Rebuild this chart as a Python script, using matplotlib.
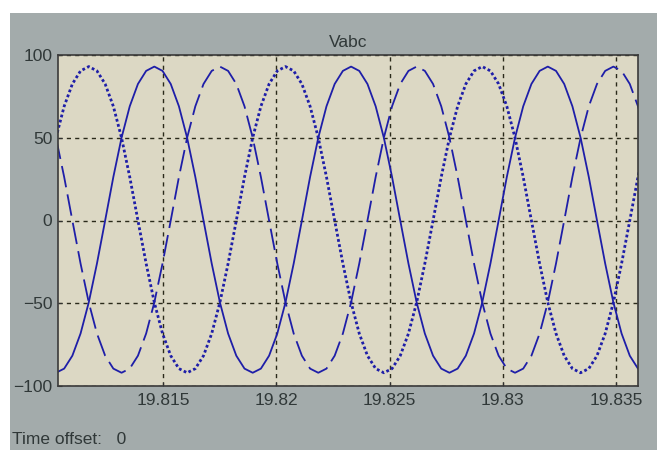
import numpy as np
import matplotlib.pyplot as plt
from matplotlib.patches import Rectangle

# sample grid of the scope trace (seconds)
t_start = 19.81026
t_step = 0.0003621

# phase voltages, one value per sample
va = [50.0, 69.0, 82.5, 90.4, 93.0, 90.4, 82.5, 69.0, 50.0, 26.3, 0.0, -26.0,
      -49.5, -68.3, -81.7, -89.5, -92.0, -89.5, -81.7, -68.3, -49.5, -26.0, 0.0, 26.3,
      50.0, 69.0, 82.5, 90.4, 93.0, 90.4, 82.5, 69.0, 50.0, 26.3, 0.0, -26.0,
      -49.5, -68.3, -81.7, -89.5, -92.0, -89.5, -81.7, -68.3, -49.5, -26.0, 0.0, 26.3,
      50.0, 69.0, 82.5, 90.4, 93.0, 90.4, 82.5, 69.0, 50.0, 26.3, 0.0, -26.0,
      -49.5, -68.3, -81.7, -89.5, -92.0, -89.5, -81.7, -68.3, -49.5, -26.0, 0.0, 26.3,
      50.0]
vb = [-92.0, -89.5, -81.7, -68.3, -49.5, -26.0, 0.0, 26.3, 50.0, 69.0, 82.5, 90.4,
      93.0, 90.4, 82.5, 69.0, 50.0, 26.3, 0.0, -26.0, -49.5, -68.3, -81.7, -89.5,
      -92.0, -89.5, -81.7, -68.3, -49.5, -26.0, 0.0, 26.3, 50.0, 69.0, 82.5, 90.4,
      93.0, 90.4, 82.5, 69.0, 50.0, 26.3, 0.0, -26.0, -49.5, -68.3, -81.7, -89.5,
      -92.0, -89.5, -81.7, -68.3, -49.5, -26.0, 0.0, 26.3, 50.0, 69.0, 82.5, 90.4,
      93.0, 90.4, 82.5, 69.0, 50.0, 26.3, 0.0, -26.0, -49.5, -68.3, -81.7, -89.5,
      -92.0]
vc = [50.0, 26.3, 0.0, -26.0, -49.5, -68.3, -81.7, -89.5, -92.0, -89.5, -81.7, -68.3,
      -49.5, -26.0, 0.0, 26.3, 50.0, 69.0, 82.5, 90.4, 93.0, 90.4, 82.5, 69.0,
      50.0, 26.3, 0.0, -26.0, -49.5, -68.3, -81.7, -89.5, -92.0, -89.5, -81.7, -68.3,
      -49.5, -26.0, 0.0, 26.3, 50.0, 69.0, 82.5, 90.4, 93.0, 90.4, 82.5, 69.0,
      50.0, 26.3, 0.0, -26.0, -49.5, -68.3, -81.7, -89.5, -92.0, -89.5, -81.7, -68.3,
      -49.5, -26.0, 0.0, 26.3, 50.0, 69.0, 82.5, 90.4, 93.0, 90.4, 82.5, 69.0,
      50.0]

x_ticks = [19.815, 19.82, 19.825, 19.83, 19.835]
x_labels = ['19.815', '19.82', '19.825', '19.83', '19.835']
y_ticks = [-100, -50, 0, 50, 100]

t = t_start + t_step * np.arange(len(va))

plt.rcParams['font.family'] = ['Liberation Sans', 'DejaVu Sans']

fig = plt.figure(figsize=(6.57, 4.5), dpi=100, facecolor='white')
# grey scope window (leaves a white strip on top and left)
fig.patches.append(Rectangle((10 / 657, 0), 1, 1 - 13 / 450, transform=fig.transFigure,
                             facecolor='#a3abab', edgecolor='none', zorder=-10))

ax = fig.add_axes([58 / 657, 1 - 386 / 450, 580 / 657, 331 / 450])
ax.set_zorder(1)
ax.set_facecolor('#dcd8c4')

blue = '#1e1ea8'
ax.plot(t, va, color=blue, lw=2.0, linestyle=(0, (1.0, 0.9)))
ax.plot(t, vb, color=blue, lw=1.3, linestyle='-')
ax.plot(t, vc, color=blue, lw=1.3, linestyle=(0, (12, 4)))

ax.set_xlim(19.81035, 19.83597)
ax.set_ylim(-100, 100)
ax.set_xticks(x_ticks)
ax.set_xticklabels(x_labels)
ax.set_yticks(y_ticks)
ax.grid(True, color='#2a2a1a', lw=1.0, linestyle=(0, (3, 3)))
ax.tick_params(direction='in', length=3, color='#303030', labelsize=12.5,
               labelcolor='#303838')
ax.tick_params(axis='x', pad=5)
ax.tick_params(axis='y', pad=4)
for s in ax.spines.values():
    s.set_color('#3a3a3a')
    s.set_linewidth(1.2)

ax.set_title('Vabc', fontsize=12.5, color='#303838', pad=6)
fig.text(12 / 657, 1 - 440 / 450, 'Time offset:   0', fontsize=12.5, color='#303838',
         va='center', ha='left')

fig.savefig('out.png', dpi=100, facecolor=fig.get_facecolor())
